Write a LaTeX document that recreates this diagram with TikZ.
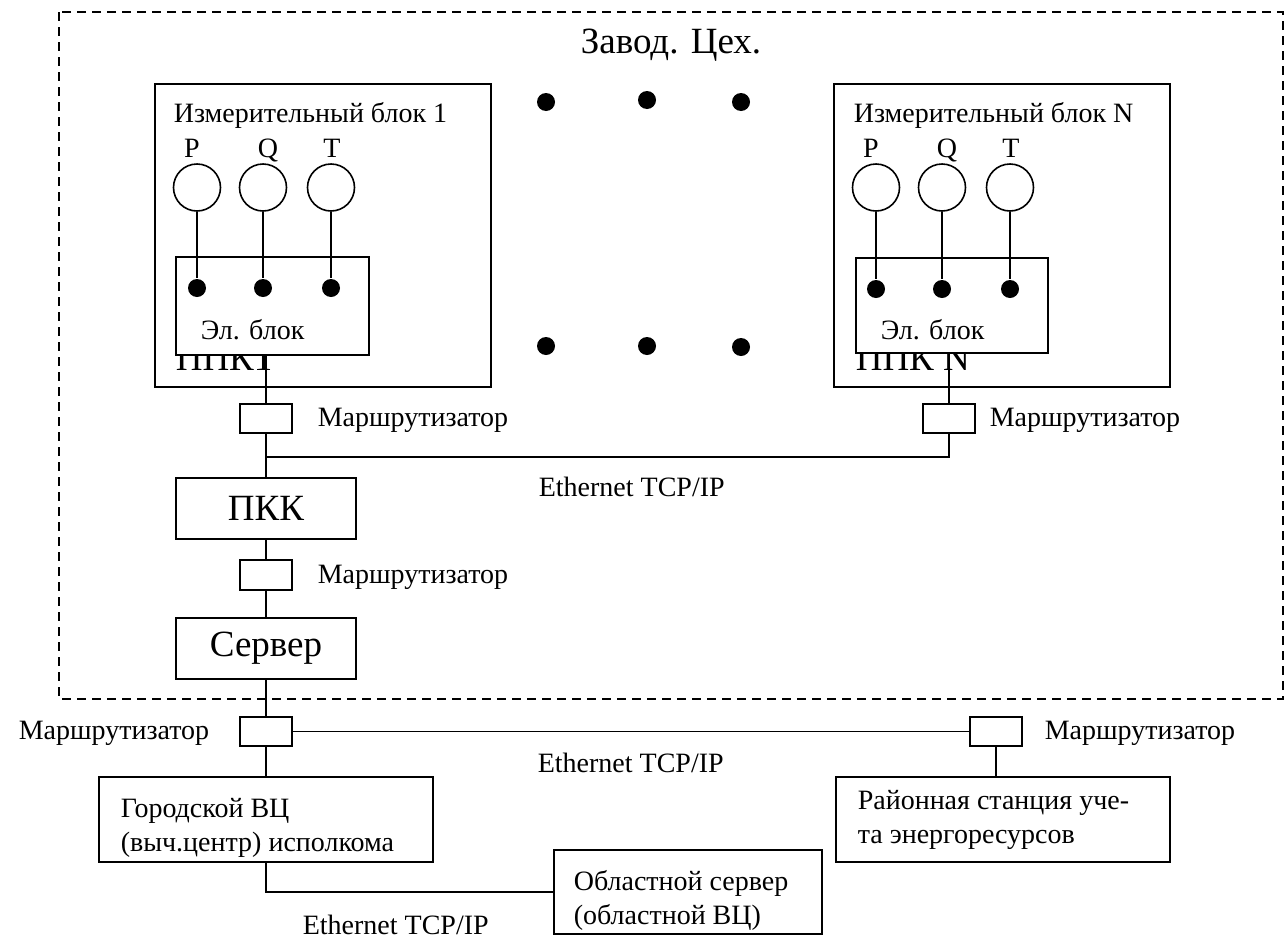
\documentclass[tikz,border=0pt]{standalone}
\usepackage{fontspec}
\setmainfont{Liberation Serif}
\usetikzlibrary{positioning}

\begin{document}
\begin{tikzpicture}[x=1pt, y=-1pt, line width=1.6pt,
  txt/.style={inner sep=0pt, font=\fontsize{28}{34}\selectfont},
  big/.style={inner sep=0pt, font=\fontsize{37}{40}\selectfont},
  box/.style={draw, fill=white, inner sep=0pt},
  rtr/.style={draw, fill=white, minimum width=52pt, minimum height=29pt, inner sep=0pt},
  sens/.style={draw, circle, minimum size=47pt, inner sep=0pt},
  pin/.style={fill, circle, minimum size=18pt, inner sep=0pt}]
\useasboundingbox (0,0) rectangle (1286,940);

% plant boundary
\draw[dash pattern=on 9pt off 6pt, line width=1.6pt] (59,12) rectangle (1283,699);
\node[big] (zavod) at (671,45) {Завод. Цех.};

% measuring block 1
\node[box, minimum width=336pt, minimum height=303pt] (blk1) at (323,235.5) {};
\node[txt, anchor=west] (blk1t) at (173,115) {Измерительный блок 1};
\node[txt, anchor=base] (p1) at (192,157) {P};
\node[txt, anchor=base] (q1) at (268,157) {Q};
\node[txt, anchor=base] (t1) at (332,157) {T};
\node[sens] (s1p) at (197,187.5) {};
\node[sens] (s1q) at (263,187.5) {};
\node[sens] (s1t) at (331,187.5) {};
\node[big, anchor=base west] (ppk1) at (175,370) {ППК1};
\node[box, minimum width=193pt, minimum height=98pt] (el1) at (272.5,306) {};
\node[txt, anchor=west] (el1t) at (200,330) {Эл. блок};
\node[pin] (d1p) at (197,288) {};
\node[pin] (d1q) at (263,288) {};
\node[pin] (d1t) at (331,288) {};
\draw (s1p) -- (d1p);
\draw (s1q) -- (d1q);
\draw (s1t) -- (d1t);

% measuring block N
\node[box, minimum width=336pt, minimum height=303pt] (blkN) at (1002,235.5) {};
\node[txt, anchor=west] (blkNt) at (853,115) {Измерительный блок N};
\node[txt, anchor=base] (pN) at (871,157) {P};
\node[txt, anchor=base] (qN) at (947,157) {Q};
\node[txt, anchor=base] (tN) at (1011,157) {T};
\node[sens] (sNp) at (876,187.5) {};
\node[sens] (sNq) at (942,187.5) {};
\node[sens] (sNt) at (1010,187.5) {};
\node[big, anchor=base west] (ppkN) at (855,370) {ППК N};
\node[box, minimum width=192pt, minimum height=95pt] (elN) at (952,305.5) {};
\node[txt, anchor=west] (elNt) at (880,330) {Эл. блок};
\node[pin] (dNp) at (876,289) {};
\node[pin] (dNq) at (942,289) {};
\node[pin] (dNt) at (1010,289) {};
\draw (sNp) -- (dNp);
\draw (sNq) -- (dNq);
\draw (sNt) -- (dNt);

% blocks 2 .. N-1
\foreach \x/\y [count=\i] in {546/102, 647/100, 741/102, 546/346, 647/346, 741/347}
  \node[pin] (gap\i) at (\x,\y) {};

% shop network
\node[rtr] (r1) at (266,418.5) {};
\node[txt, anchor=west] (r1t) at (317,420) {Маршрутизатор};
\node[rtr] (rN) at (949,418.5) {};
\node[txt, anchor=west] (rNt) at (989,420) {Маршрутизатор};
\coordinate (j1) at (266,457);
\node[txt, anchor=west] (eth1) at (538,487) {Ethernet TCP/IP};
\node[box, big, minimum width=180pt, minimum height=61pt] (pkk) at (266,508.5) {ПКК};
\node[rtr, minimum height=30pt] (r2) at (266,575) {};
\node[txt, anchor=west] (r2t) at (317,577) {Маршрутизатор};
\node[box, big, minimum width=180pt, minimum height=61pt] (srv) at (266,648.5) {Сервер};
\draw (el1.south -| r1) -- (r1);
\draw (elN.south -| rN) -- (rN);
\draw (r1) -- (j1) -| (rN);
\draw (j1) -- (pkk);
\draw (pkk) -- (r2);
\draw (r2) -- (srv);

% city network
\node[rtr] (r3) at (266,731.5) {};
\node[txt, anchor=east] (r3t) at (210,733) {Маршрутизатор};
\node[rtr] (r4) at (996,731.5) {};
\node[txt, anchor=west] (r4t) at (1044,733) {Маршрутизатор};
\node[txt, anchor=west] (eth2) at (537,763) {Ethernet TCP/IP};
\node[box, minimum width=334pt, minimum height=85pt] (gor) at (266,819.5) {};
\node[txt, anchor=west, align=left] (gort) at (120,828) {Городской ВЦ\\(выч.центр) исполкома};
\node[box, minimum width=334pt, minimum height=85pt] (ray) at (1003,819.5) {};
\node[txt, anchor=west, align=left] (rayt) at (857,820) {Районная станция уче-\\та энергоресурсов};
\node[box, minimum width=268pt, minimum height=84pt] (obl) at (688,892) {};
\node[txt, anchor=west, align=left] (oblt) at (573,900) {Областной сервер\\(областной ВЦ)};
\node[txt, anchor=west] (eth3) at (302,925) {Ethernet TCP/IP};
\draw (srv) -- (r3);
\draw (r3) -- (r4);
\draw (r3) -- (gor);
\draw (r4) -- (r4 |- ray.north);
\draw (gor.south) |- (obl.west);
\end{tikzpicture}
\end{document}
